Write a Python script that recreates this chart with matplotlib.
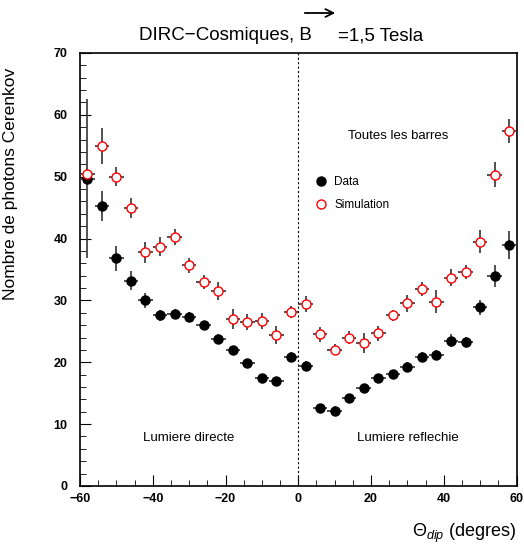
import matplotlib
matplotlib.use("Agg")
import matplotlib.pyplot as plt
from matplotlib.ticker import MultipleLocator
from matplotlib.patches import FancyArrowPatch

plt.rcParams['font.family'] = ['Liberation Sans', 'DejaVu Sans']
plt.rcParams['mathtext.fontset'] = 'custom'
plt.rcParams['mathtext.rm'] = 'Liberation Sans'
plt.rcParams['mathtext.it'] = 'Liberation Sans:italic'

# theta_dip bin centres (degrees)
theta = [-58, -54, -50, -46, -42, -38, -34, -30, -26, -22, -18, -14, -10, -6, -2,
         2, 6, 10, 14, 18, 22, 26, 30, 34, 38, 42, 46, 50, 54, 58]

data_y = [49.7, 45.3, 36.8, 33.2, 30.0, 27.6, 27.8, 27.3, 26.0, 23.8, 22.0, 19.9, 17.5, 17.0, 20.9,
          19.4, 12.6, 12.2, 14.2, 15.8, 17.4, 18.1, 19.3, 20.9, 21.2, 23.5, 23.2, 28.9, 34.0, 39.0]
data_err = [12.9, 2.4, 2.0, 1.5, 1.2, 0.9, 0.8, 0.8, 0.7, 0.7, 0.7, 0.7, 0.6, 0.6, 0.7,
            0.8, 0.7, 0.7, 0.7, 0.7, 0.7, 0.7, 0.7, 0.8, 0.8, 1.0, 0.9, 1.2, 1.8, 2.3]

sim_y = [50.5, 55.0, 50.0, 45.0, 37.8, 38.7, 40.2, 35.7, 33.0, 31.5, 27.0, 26.5, 26.7, 24.4, 28.1,
         29.4, 24.5, 22.0, 24.0, 23.1, 24.7, 27.6, 29.5, 31.8, 29.8, 33.7, 34.6, 39.5, 50.3, 57.4]
sim_err = [0.8, 2.9, 1.5, 1.6, 1.7, 1.5, 1.3, 1.2, 1.1, 1.4, 1.6, 1.3, 1.3, 1.5, 1.0,
           1.3, 1.2, 0.9, 1.0, 1.6, 1.2, 0.9, 1.3, 1.1, 1.9, 1.4, 1.1, 1.9, 2.0, 2.0]

bin_half = 2.0

fig = plt.figure(figsize=(5.24, 5.45), dpi=100)
ax = fig.add_axes([0.1527, 0.1083, 0.833, 0.7945])

ax.errorbar(theta, data_y, yerr=data_err, xerr=bin_half, fmt='o', color='black',
            ecolor='#333333', elinewidth=1.2, markersize=6.5, capsize=0, label='Data', zorder=3)
ax.errorbar(theta, sim_y, yerr=sim_err, xerr=bin_half, fmt='o', mfc='white', mec='red',
            mew=1.0, ecolor='#333333', elinewidth=1.2, markersize=6.5, capsize=0,
            label='Simulation', zorder=3)

ax.axvline(0, color='black', linestyle=(0, (2, 2)), linewidth=0.8)

ax.set_xlim(-60, 60)
ax.set_ylim(0, 70)
ax.xaxis.set_major_locator(MultipleLocator(20))
ax.xaxis.set_minor_locator(MultipleLocator(5))
ax.yaxis.set_major_locator(MultipleLocator(10))
ax.yaxis.set_minor_locator(MultipleLocator(2))
ax.tick_params(which='both', direction='in', top=False, right=False, labelsize=9)
ax.tick_params(which='major', length=8)
ax.tick_params(which='minor', length=4)
ax.tick_params(axis='x', which='major', pad=5)
ax.tick_params(axis='y', which='major', pad=9)
ax.set_xticks([-60, -40, -20, 0, 20, 40, 60])
ax.set_xticklabels(['\u221260', '\u221240', '\u221220', '0', '20', '40', '60'], fontweight='bold')
for lab in ax.get_yticklabels():
    lab.set_fontweight('bold')
for s in ax.spines.values():
    s.set_linewidth(1.2)

ax.set_ylabel('Nombre de photons Cerenkov', fontsize=12.5, loc='top')
ax.yaxis.set_label_coords(-0.142, 0.965)
ax.set_xlabel(r'$\Theta_{dip}$ (degres)', fontsize=13, loc='right', labelpad=12)

ax.text(27.5, 56.6, 'Toutes les barres', ha='center', va='center', fontsize=9.5)
ax.text(-30, 7.7, 'Lumiere directe', ha='center', va='center', fontsize=9.5)
ax.text(30, 7.7, 'Lumiere reflechie', ha='center', va='center', fontsize=9.5)

h, l = ax.get_legend_handles_labels()
h = [hh[0] for hh in h]
ax.legend(h, l, loc='upper left', bbox_to_anchor=(0.515, 0.74), frameon=False,
          fontsize=8.5, handletextpad=0.6, labelspacing=0.9, handlelength=1.0)

# title in two pieces so the vector arrow sits above the B
fig.text(312 / 524, 1 - 36 / 545, 'DIRC\u2212Cosmiques, B', ha='right', va='center', fontsize=13.5)
fig.text(338 / 524, 1 - 36 / 545, '=1,5 Tesla', ha='left', va='center', fontsize=13.5)
fig.patches.append(FancyArrowPatch((302 / 524, 1 - 13 / 545), (338 / 524, 1 - 13 / 545),
                                   transform=fig.transFigure, arrowstyle='->', mutation_scale=14,
                                   linewidth=1.3, color='black'))

fig.savefig('out.png', dpi=100)
